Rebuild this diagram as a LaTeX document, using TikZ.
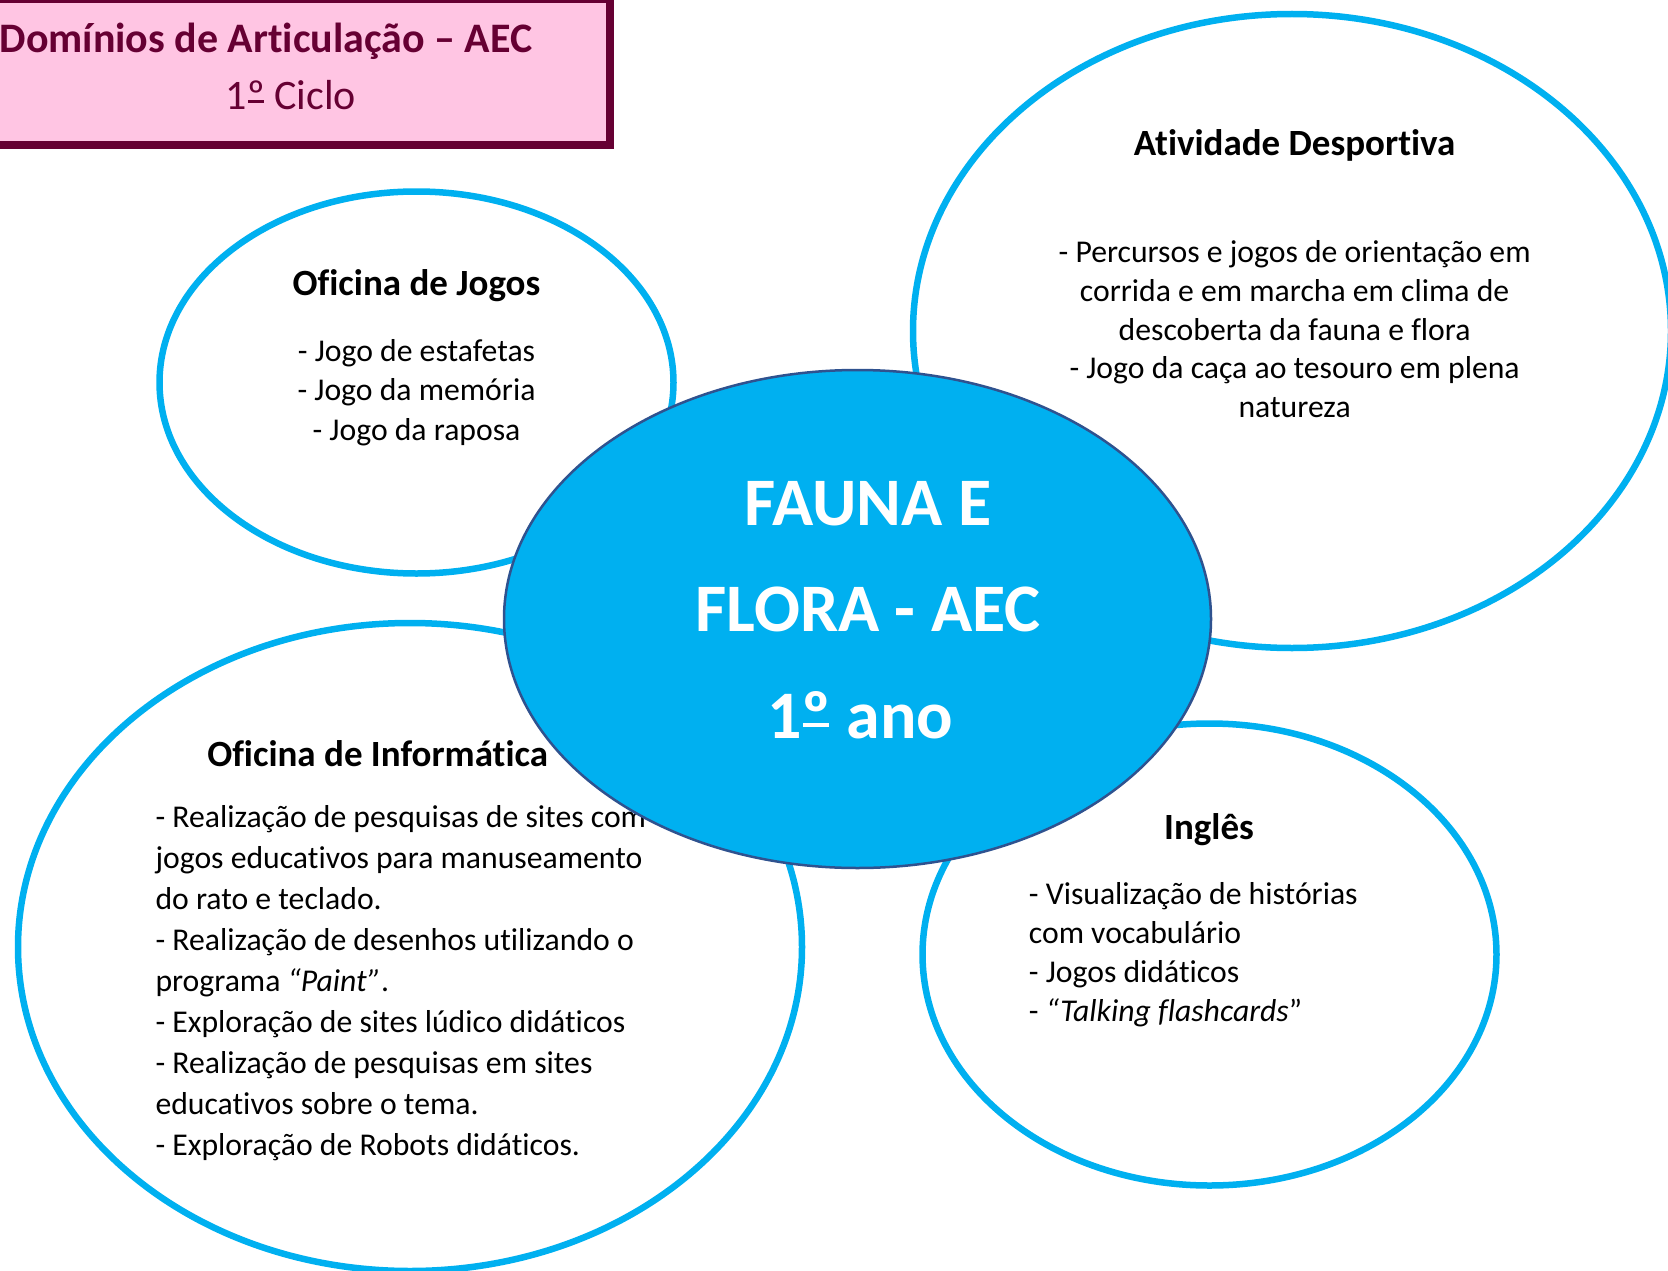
\documentclass[tikz,border=0pt]{standalone}
\usepackage{fontspec}
\setmainfont{Carlito}[Ligatures={NoCommon}]
\usetikzlibrary{shapes.geometric, positioning}
\definecolor{aecblue}{RGB}{0,176,240}
\definecolor{hubedge}{RGB}{47,82,143}
\definecolor{wine}{RGB}{102,0,51}
\definecolor{rosa}{RGB}{255,197,227}
% underlined ordinal, as the reference prints it
\newcommand{\ordmark}{\leavevmode\sbox0{º}\rlap{\hspace{0.04\wd0}\rule[0.17em]{0.9\wd0}{0.06em}}\usebox0}
\tikzset{
  bubble/.style={ellipse, draw=aecblue, line width=6.5pt, fill=white, inner sep=0pt},
  hub/.style={ellipse, draw=hubedge, line width=2.5pt, fill=aecblue, inner sep=0pt},
  head/.style={font=\fontsize{37}{44}\selectfont\bfseries, anchor=base, inner sep=0pt},
  items/.style={font=\fontsize{31.7}{39.5}\selectfont, inner sep=0pt},
}

\begin{document}
\begin{tikzpicture}[x=1pt, y=-1pt,
  titlebox/.style={rectangle, draw=wine, line width=8pt, fill=rosa, inner sep=0pt},
  ttl/.style={text=wine, anchor=base, inner sep=0pt},
  hubtxt/.style={text=white, align=center, anchor=north, inner sep=0pt,
                 font=\fontsize{68}{106.5}\selectfont\bfseries},
]
  \useasboundingbox (0,0) rectangle (1668,1271);
  \clip (0,0) rectangle (1668,1271);

  % title
  \node[titlebox, minimum width=650pt, minimum height=146.5pt] (titlebox) at (285,72.25) {};
  \node[ttl, font=\fontsize{42}{50}\selectfont\bfseries] (title) at (266,53)
    {Domínios de Articulação – AEC};
  \node[ttl, font=\fontsize{42}{50}\selectfont] (ciclo) at (291,110) {1\ordmark{} Ciclo};

  % outer bubbles
  \node[bubble, minimum width=514pt, minimum height=382pt] (jogos) at (416.5,382.5) {};
  \node[bubble, minimum width=758pt, minimum height=634pt] (desporto) at (1292,331) {};
  \node[bubble, minimum width=784pt, minimum height=648pt] (info) at (410,947) {};
  \node[bubble, minimum width=574pt, minimum height=462pt] (ingles) at (1209.5,954.5) {};

  \node[head] (jogoshd) at (416.5,295) {Oficina de Jogos};
  \node[items, align=center, anchor=north] (jogoslst) at (416.5,333.4)
    {\strut- Jogo de estafetas\\- Jogo da memória\\- Jogo da raposa};

  \node[head] (desportohd) at (1294.6,156) {Atividade Desportiva};
  \node[items, align=center, anchor=north, font=\fontsize{31.7}{38.9}\selectfont]
    (desportolst) at (1294.6,234.8)
    {\strut- Percursos e jogos de orientação em\\corrida e em marcha em clima de\\
     descoberta da fauna e flora\\- Jogo da caça ao tesouro em plena\\natureza};

  \node[head] (infohd) at (377.7,766) {Oficina de Informática};
  \node[items, align=left, anchor=north west, font=\fontsize{31.7}{41}\selectfont]
    (infolst) at (155.3,798.3)
    {\strut- Realização de pesquisas de sites com\\jogos educativos para manuseamento\\
     do rato e teclado.\\- Realização de desenhos utilizando o\\
     programa \textit{“Paint”}.\\- Exploração de sites lúdico didáticos\\
     - Realização de pesquisas em sites\\educativos sobre o tema.\\
     - Exploração de Robots didáticos.};

  \node[head] (ingleshd) at (1209,839) {Inglês};
  \node[items, align=left, anchor=north west, font=\fontsize{31.7}{39}\selectfont]
    (ingleslst) at (1028.7,876.7)
    {\strut- Visualização de histórias\\com vocabulário\\- Jogos didáticos\\
     - \textit{“Talking flashcards}”};

  % centre
  \node[hub, minimum width=707pt, minimum height=498pt] (hub) at (857.5,619) {};
  \node[hubtxt] (hubtxt) at (868,450.5) {\strut FAUNA E\\FLORA - AEC\\1\ordmark{} ano\kern0.23em};
\end{tikzpicture}
\end{document}
